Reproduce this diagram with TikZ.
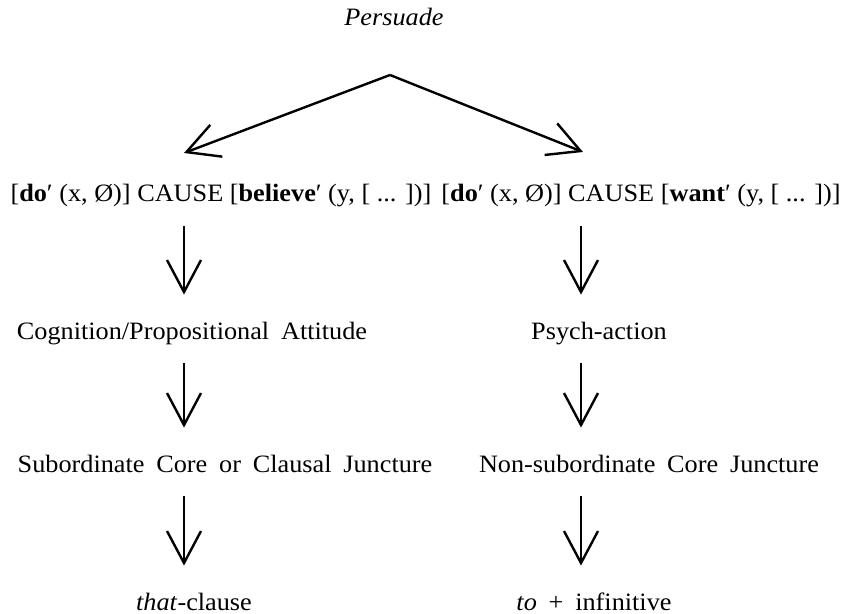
\documentclass[tikz,border=0pt]{standalone}
\usepackage{fontspec}
\setmainfont{Liberation Serif}[FakeStretch=1.05,WordSpace=1.8]
\newfontfamily\semfont{Liberation Serif}[FakeStretch=1.05]
\usetikzlibrary{arrows.meta}
\tikzstyle{T}+=[inner sep=0pt, anchor=base, text height=8pt, text depth=2pt, font=\fontsize{12.5}{14}\selectfont]
\tikzstyle{F}+=[T, font=\fontsize{12.5}{14}\semfont]
\tikzstyle{V}+=[line width=1.2pt, -{Straight Barb[length=16pt,width=17pt,line width=1.2pt]}]
\tikzstyle{D}+=[V, shorten <=10pt, shorten >=14pt]

\begin{document}
\begin{tikzpicture}[x=0.5pt,y=-0.5pt]
        \useasboundingbox (0,0) rectangle (849,614);
        % columns of the arrows
        \coordinate (colL) at (184,0);
        \coordinate (colR) at (581,0);

        \node[T] (persuade) at (394,26) {\textit{Persuade}};
        \coordinate (apex) at (390,75);
        \coordinate (tipL) at (184,153);
        \coordinate (tipR) at (583,152);

        \node[F] (doBelieve) at (221,202) {[\textbf{do}′ (x, Ø)] CAUSE [\textbf{believe}′ (y, [ ... ])]};
        \node[F] (doWant) at (641,202) {[\textbf{do}′ (x, Ø)] CAUSE [\textbf{want}′ (y, [ ... ])]};

        \node[T] (cognition) at (192,339) {Cognition/Propositional Attitude};
        \node[T] (psych) at (599,339) {Psych-action};

        \node[T] (subCore) at (225,472) {Subordinate Core or Clausal Juncture};
        \node[T] (nonSub) at (649,472) {Non-subordinate Core Juncture};

        \node[T] (thatCl) at (194,610) {\textit{that}-clause};
        \node[T] (toInf) at (594,610) {\textit{to} + infinitive};

        \draw[V] (apex) -- (tipL);
        \draw[V] (apex) -- (tipR);

        \draw[D] (doBelieve.south -| colL) -- (cognition.north -| colL);
        \draw[D] (cognition.south -| colL) -- (subCore.north -| colL);
        \draw[D] (subCore.south -| colL) -- (thatCl.north -| colL);

        \draw[D] (doWant.south -| colR) -- (psych.north -| colR);
        \draw[D] (psych.south -| colR) -- (nonSub.north -| colR);
        \draw[D] (nonSub.south -| colR) -- (toInf.north -| colR);

    \end{tikzpicture}
\end{document}
